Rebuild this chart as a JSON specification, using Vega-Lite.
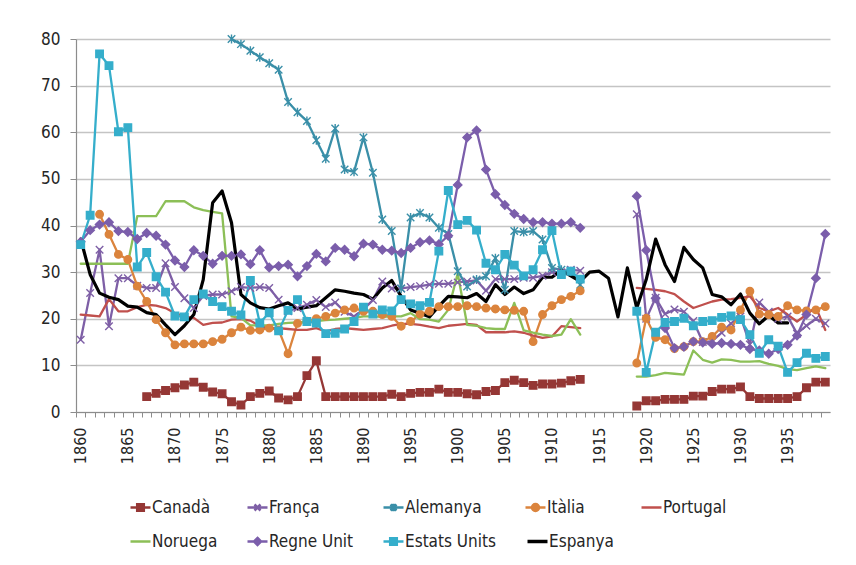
{
  "$schema": "https://vega.github.io/schema/vega-lite/v6.json",
  "autosize": "none",
  "width": 754,
  "height": 373,
  "padding": {"left": 76, "top": 39, "right": 26, "bottom": 153},
  "background": "white",
  "config": {
    "font": "DejaVu Sans Condensed",
    "view": {"stroke": null},
    "axis": {"labelFont": "DejaVu Sans Condensed", "labelColor": "#262626", "domainColor": "#8c8c8c", "tickColor": "#8c8c8c", "gridColor": "#c4c4c4", "gridWidth": 1.3, "domainWidth": 1.2, "tickWidth": 1, "title": null},
    "legend": {"labelFont": "DejaVu Sans Condensed", "labelColor": "#262626"}
  },
  "data": {"values": [
    {"year":1860,"França":15.5,"Portugal":20.9,"Noruega":31.8,"Regne Unit":36.5,"Estats Units":35.9,"Espanya":37.1},
    {"year":1861,"França":25.5,"Portugal":20.7,"Noruega":31.8,"Regne Unit":39.0,"Estats Units":42.2,"Espanya":29.5},
    {"year":1862,"França":34.8,"Itàlia":42.4,"Portugal":20.5,"Noruega":31.8,"Regne Unit":40.2,"Estats Units":76.8,"Espanya":25.5},
    {"year":1863,"França":18.4,"Itàlia":38.1,"Portugal":24.2,"Noruega":31.8,"Regne Unit":40.7,"Estats Units":74.3,"Espanya":24.6},
    {"year":1864,"França":28.7,"Itàlia":33.8,"Portugal":21.6,"Noruega":31.8,"Regne Unit":38.8,"Estats Units":60.1,"Espanya":24.1},
    {"year":1865,"França":28.7,"Itàlia":32.7,"Portugal":21.6,"Noruega":31.8,"Regne Unit":38.6,"Estats Units":61.0,"Espanya":22.7},
    {"year":1866,"França":27.1,"Itàlia":27.0,"Portugal":22.5,"Noruega":42.0,"Regne Unit":37.1,"Estats Units":31.1,"Espanya":22.5},
    {"year":1867,"Canadà":3.3,"França":26.6,"Itàlia":23.7,"Portugal":23.0,"Noruega":42.0,"Regne Unit":38.4,"Estats Units":34.2,"Espanya":21.3},
    {"year":1868,"Canadà":4.0,"França":26.6,"Itàlia":19.8,"Portugal":22.8,"Noruega":42.0,"Regne Unit":37.8,"Estats Units":29.0,"Espanya":20.9},
    {"year":1869,"Canadà":4.6,"França":31.9,"Itàlia":17.0,"Portugal":22.3,"Noruega":45.2,"Regne Unit":35.9,"Estats Units":25.7,"Espanya":18.7},
    {"year":1870,"Canadà":5.2,"França":26.8,"Itàlia":14.4,"Portugal":21.2,"Noruega":45.2,"Regne Unit":32.5,"Estats Units":20.6,"Espanya":16.6},
    {"year":1871,"Canadà":5.8,"França":24.4,"Itàlia":14.6,"Portugal":20.5,"Noruega":45.2,"Regne Unit":31.1,"Estats Units":20.4,"Espanya":18.5},
    {"year":1872,"Canadà":6.4,"França":22.3,"Itàlia":14.6,"Portugal":20.2,"Noruega":43.9,"Regne Unit":34.7,"Estats Units":24.1,"Espanya":20.9},
    {"year":1873,"Canadà":5.3,"França":24.9,"Itàlia":14.6,"Portugal":18.7,"Noruega":43.3,"Regne Unit":33.5,"Estats Units":25.3,"Espanya":28.4},
    {"year":1874,"Canadà":4.3,"França":25.2,"Itàlia":15.1,"Portugal":19.1,"Noruega":42.9,"Regne Unit":31.8,"Estats Units":23.7,"Espanya":44.9},
    {"year":1875,"Canadà":3.9,"França":25.2,"Itàlia":15.6,"Portugal":19.2,"Noruega":42.6,"Regne Unit":33.5,"Estats Units":22.6,"Espanya":47.4},
    {"year":1876,"Canadà":2.2,"França":25.9,"Alemanya":80.0,"Itàlia":17.0,"Portugal":19.8,"Noruega":20.5,"Regne Unit":33.5,"Estats Units":21.6,"Espanya":40.6},
    {"year":1877,"Canadà":1.5,"França":26.8,"Alemanya":78.9,"Itàlia":18.2,"Portugal":19.9,"Noruega":20.2,"Regne Unit":33.8,"Estats Units":20.8,"Espanya":25.2},
    {"year":1878,"Canadà":3.3,"França":26.6,"Alemanya":77.5,"Itàlia":17.5,"Portugal":19.6,"Noruega":18.6,"Regne Unit":31.7,"Estats Units":28.2,"Espanya":23.4},
    {"year":1879,"Canadà":4.0,"França":26.8,"Alemanya":76.1,"Itàlia":17.6,"Portugal":18.4,"Noruega":18.6,"Regne Unit":34.7,"Estats Units":19.1,"Espanya":22.4},
    {"year":1880,"Canadà":4.5,"França":26.6,"Alemanya":74.8,"Itàlia":18.0,"Portugal":18.0,"Noruega":18.6,"Regne Unit":31.0,"Estats Units":21.3,"Espanya":22.1},
    {"year":1881,"Canadà":3.0,"França":24.1,"Alemanya":73.4,"Itàlia":17.6,"Portugal":18.0,"Noruega":18.9,"Regne Unit":31.3,"Estats Units":17.4,"Espanya":22.8},
    {"year":1882,"Canadà":2.6,"França":21.6,"Alemanya":66.5,"Itàlia":12.5,"Portugal":17.8,"Noruega":19.1,"Regne Unit":31.6,"Estats Units":21.8,"Espanya":23.4},
    {"year":1883,"Canadà":3.3,"França":22.3,"Alemanya":64.3,"Itàlia":19.0,"Portugal":17.6,"Noruega":19.2,"Regne Unit":29.1,"Estats Units":24.1,"Espanya":22.1},
    {"year":1884,"Canadà":7.8,"França":23.0,"Alemanya":62.4,"Itàlia":19.5,"Portugal":17.6,"Noruega":19.3,"Regne Unit":31.3,"Estats Units":19.4,"Espanya":22.5},
    {"year":1885,"Canadà":11.0,"França":24.0,"Alemanya":58.3,"Itàlia":20.0,"Portugal":18.0,"Noruega":19.5,"Regne Unit":33.9,"Estats Units":19.1,"Espanya":22.8},
    {"year":1886,"Canadà":3.3,"França":22.5,"Alemanya":54.3,"Itàlia":20.5,"Portugal":17.3,"Noruega":19.7,"Regne Unit":32.3,"Estats Units":16.8,"Espanya":24.5},
    {"year":1887,"Canadà":3.3,"França":23.5,"Alemanya":60.8,"Itàlia":21.2,"Portugal":17.8,"Noruega":19.8,"Regne Unit":35.2,"Estats Units":16.9,"Espanya":26.2},
    {"year":1888,"Canadà":3.3,"França":21.5,"Alemanya":52.0,"Itàlia":21.9,"Portugal":18.0,"Noruega":20.0,"Regne Unit":34.8,"Estats Units":17.8,"Espanya":25.9},
    {"year":1889,"Canadà":3.3,"França":20.5,"Alemanya":51.5,"Itàlia":22.3,"Portugal":17.8,"Noruega":20.2,"Regne Unit":33.4,"Estats Units":19.4,"Espanya":25.5},
    {"year":1890,"Canadà":3.3,"França":22.0,"Alemanya":58.9,"Itàlia":21.6,"Portugal":17.6,"Noruega":20.5,"Regne Unit":36.1,"Estats Units":22.5,"Espanya":25.2},
    {"year":1891,"Canadà":3.3,"França":24.0,"Alemanya":51.3,"Itàlia":21.6,"Portugal":17.8,"Noruega":20.5,"Regne Unit":35.9,"Estats Units":21.0,"Espanya":24.2},
    {"year":1892,"Canadà":3.3,"França":28.0,"Alemanya":41.3,"Itàlia":20.9,"Portugal":18.0,"Noruega":20.4,"Regne Unit":34.8,"Estats Units":21.9,"Espanya":26.6},
    {"year":1893,"Canadà":3.8,"França":26.5,"Alemanya":38.8,"Itàlia":20.5,"Portugal":18.5,"Noruega":20.5,"Regne Unit":34.6,"Estats Units":21.7,"Espanya":28.2},
    {"year":1894,"Canadà":3.3,"França":26.5,"Alemanya":26.5,"Itàlia":18.4,"Portugal":18.9,"Noruega":20.5,"Regne Unit":34.1,"Estats Units":24.1,"Espanya":24.8},
    {"year":1895,"Canadà":4.0,"França":26.8,"Alemanya":41.7,"Itàlia":19.4,"Portugal":18.9,"Noruega":21.2,"Regne Unit":35.2,"Estats Units":23.2,"Espanya":21.9},
    {"year":1896,"Canadà":4.2,"França":27.0,"Alemanya":42.7,"Itàlia":21.0,"Portugal":18.7,"Noruega":19.9,"Regne Unit":36.4,"Estats Units":22.8,"Espanya":21.2},
    {"year":1897,"Canadà":4.2,"França":27.3,"Alemanya":41.7,"Itàlia":21.6,"Portugal":18.3,"Noruega":19.8,"Regne Unit":36.8,"Estats Units":23.5,"Espanya":20.4},
    {"year":1898,"Canadà":4.9,"França":27.5,"Alemanya":39.5,"Itàlia":22.6,"Portugal":18.0,"Noruega":19.4,"Regne Unit":36.0,"Estats Units":34.5,"Espanya":22.7},
    {"year":1899,"Canadà":4.2,"França":27.5,"Alemanya":38.2,"Itàlia":22.6,"Portugal":18.5,"Noruega":21.9,"Regne Unit":37.8,"Estats Units":47.5,"Espanya":24.8},
    {"year":1900,"Canadà":4.2,"França":27.8,"Alemanya":30.2,"Itàlia":22.6,"Portugal":18.7,"Noruega":29.7,"Regne Unit":48.7,"Estats Units":40.2,"Espanya":24.7},
    {"year":1901,"Canadà":3.9,"França":28.0,"Alemanya":26.9,"Itàlia":22.8,"Portugal":18.9,"Noruega":18.7,"Regne Unit":58.9,"Estats Units":41.1,"Espanya":24.5},
    {"year":1902,"Canadà":3.7,"França":28.2,"Alemanya":28.4,"Itàlia":22.6,"Portugal":18.7,"Noruega":18.5,"Regne Unit":60.4,"Estats Units":39.0,"Espanya":25.4},
    {"year":1903,"Canadà":4.4,"França":26.0,"Alemanya":29.1,"Itàlia":22.3,"Portugal":17.1,"Noruega":18.0,"Regne Unit":52.0,"Estats Units":31.9,"Espanya":23.7},
    {"year":1904,"Canadà":4.6,"França":28.5,"Alemanya":33.0,"Itàlia":22.1,"Portugal":17.1,"Noruega":17.8,"Regne Unit":46.7,"Estats Units":30.5,"Espanya":27.3},
    {"year":1905,"Canadà":6.3,"França":28.5,"Alemanya":26.2,"Itàlia":21.9,"Portugal":17.1,"Noruega":17.8,"Regne Unit":44.4,"Estats Units":33.8,"Espanya":25.2},
    {"year":1906,"Canadà":6.8,"França":28.5,"Alemanya":38.8,"Itàlia":21.8,"Portugal":17.3,"Noruega":23.4,"Regne Unit":42.5,"Estats Units":31.5,"Espanya":26.8},
    {"year":1907,"Canadà":6.3,"França":28.8,"Alemanya":38.6,"Itàlia":21.6,"Portugal":17.0,"Noruega":17.5,"Regne Unit":41.4,"Estats Units":29.2,"Espanya":25.4},
    {"year":1908,"Canadà":5.7,"França":28.8,"Alemanya":38.8,"Itàlia":15.1,"Portugal":16.4,"Noruega":17.0,"Regne Unit":40.7,"Estats Units":30.5,"Espanya":26.2},
    {"year":1909,"Canadà":6.0,"França":29.2,"Alemanya":37.0,"Itàlia":20.9,"Portugal":15.9,"Noruega":16.6,"Regne Unit":40.7,"Estats Units":34.8,"Espanya":28.9},
    {"year":1910,"Canadà":6.0,"França":30.0,"Alemanya":30.9,"Itàlia":22.8,"Portugal":16.2,"Noruega":16.3,"Regne Unit":40.4,"Estats Units":38.9,"Espanya":28.9},
    {"year":1911,"Canadà":6.2,"França":30.0,"Alemanya":30.5,"Itàlia":24.1,"Portugal":18.4,"Noruega":16.6,"Regne Unit":40.4,"Estats Units":29.5,"Espanya":30.4},
    {"year":1912,"Canadà":6.7,"França":30.5,"Alemanya":30.2,"Itàlia":24.8,"Portugal":18.2,"Noruega":19.9,"Regne Unit":40.7,"Estats Units":30.2,"Espanya":29.2},
    {"year":1913,"Canadà":7.0,"França":30.3,"Alemanya":27.3,"Itàlia":26.0,"Portugal":18.0,"Noruega":16.6,"Regne Unit":39.5,"Estats Units":28.5,"Espanya":28.0},
    {"year":1914,"Espanya":30.0},
    {"year":1915,"Espanya":30.2},
    {"year":1916,"Espanya":28.7},
    {"year":1917,"Espanya":20.4},
    {"year":1918,"Espanya":30.9},
    {"year":1919,"Canadà":1.3,"França":42.4,"Itàlia":10.5,"Portugal":26.6,"Noruega":7.6,"Regne Unit":46.3,"Estats Units":21.6,"Espanya":22.3},
    {"year":1920,"Canadà":2.4,"França":20.0,"Itàlia":20.1,"Portugal":26.4,"Noruega":7.6,"Regne Unit":34.7,"Estats Units":8.5,"Espanya":28.4},
    {"year":1921,"Canadà":2.4,"França":24.5,"Itàlia":16.0,"Portugal":26.2,"Noruega":7.9,"Regne Unit":24.4,"Estats Units":17.1,"Espanya":37.1},
    {"year":1922,"Canadà":2.7,"França":21.0,"Itàlia":15.5,"Portugal":25.9,"Noruega":8.4,"Regne Unit":18.0,"Estats Units":19.2,"Espanya":31.6},
    {"year":1923,"Canadà":2.7,"França":22.0,"Itàlia":13.6,"Portugal":25.3,"Noruega":8.2,"Regne Unit":13.7,"Estats Units":19.4,"Espanya":28.0},
    {"year":1924,"Canadà":2.7,"França":21.5,"Itàlia":14.0,"Portugal":23.7,"Noruega":8.0,"Regne Unit":14.0,"Estats Units":20.1,"Espanya":35.3},
    {"year":1925,"Canadà":3.4,"França":19.5,"Itàlia":15.1,"Portugal":22.3,"Noruega":13.2,"Regne Unit":15.1,"Estats Units":18.5,"Espanya":32.7},
    {"year":1926,"Canadà":3.4,"França":15.0,"Itàlia":15.1,"Portugal":23.0,"Noruega":11.2,"Regne Unit":14.9,"Estats Units":19.4,"Espanya":30.9},
    {"year":1927,"Canadà":4.4,"França":15.2,"Itàlia":16.2,"Portugal":23.7,"Noruega":10.6,"Regne Unit":14.6,"Estats Units":19.6,"Espanya":25.2},
    {"year":1928,"Canadà":4.9,"França":17.0,"Itàlia":18.2,"Portugal":24.1,"Noruega":11.3,"Regne Unit":14.8,"Estats Units":20.3,"Espanya":24.7},
    {"year":1929,"Canadà":4.9,"França":19.0,"Itàlia":17.6,"Portugal":24.2,"Noruega":11.2,"Regne Unit":14.6,"Estats Units":20.6,"Espanya":23.0},
    {"year":1930,"Canadà":5.4,"França":20.5,"Itàlia":21.9,"Portugal":24.5,"Noruega":10.8,"Regne Unit":14.4,"Estats Units":19.8,"Espanya":25.3},
    {"year":1931,"Canadà":3.3,"França":14.5,"Itàlia":25.9,"Portugal":24.8,"Noruega":10.8,"Regne Unit":13.5,"Estats Units":16.6,"Espanya":21.2},
    {"year":1932,"Canadà":2.9,"França":23.5,"Itàlia":21.0,"Portugal":22.3,"Noruega":10.9,"Regne Unit":13.2,"Estats Units":12.6,"Espanya":18.9},
    {"year":1933,"Canadà":2.9,"França":21.5,"Itàlia":20.9,"Portugal":21.6,"Noruega":10.3,"Regne Unit":12.5,"Estats Units":15.5,"Espanya":20.7},
    {"year":1934,"Canadà":2.9,"França":20.0,"Itàlia":20.5,"Portugal":22.3,"Noruega":9.9,"Regne Unit":13.5,"Estats Units":14.1,"Espanya":19.1},
    {"year":1935,"Canadà":2.9,"França":20.5,"Itàlia":22.8,"Portugal":20.9,"Noruega":9.2,"Regne Unit":14.4,"Estats Units":8.5,"Espanya":19.1},
    {"year":1936,"Canadà":3.3,"França":16.8,"Itàlia":21.9,"Portugal":19.4,"Noruega":9.0,"Regne Unit":16.4,"Estats Units":10.6},
    {"year":1937,"Canadà":5.2,"França":18.5,"Itàlia":21.7,"Portugal":20.9,"Noruega":9.4,"Regne Unit":20.9,"Estats Units":12.6},
    {"year":1938,"Canadà":6.4,"França":20.0,"Itàlia":21.9,"Portugal":22.5,"Noruega":9.8,"Regne Unit":28.7,"Estats Units":11.5},
    {"year":1939,"Canadà":6.4,"França":19.0,"Itàlia":22.6,"Portugal":17.6,"Noruega":9.4,"Regne Unit":38.2,"Estats Units":11.9}
  ]},
  "transform": [
    {"fold": ["Canadà","França","Alemanya","Itàlia","Portugal","Noruega","Regne Unit","Estats Units","Espanya"], "as": ["key","value"]}
  ],
  "layer": [
    {
      "mark": {"type": "line", "strokeJoin": "round", "strokeCap": "round", "invalid": "break-paths-filter-domains"},
      "encoding": {
        "x": {"field": "year", "type": "quantitative",
              "scale": {"domain": [1859.5, 1939.5], "nice": false, "zero": false},
              "axis": {"tickCount": 80, "format": "d", "labelExpr": "datum.value % 5 === 0 ? datum.label : ''",
                       "labelAngle": -90, "labelFontSize": 16, "labelPadding": 10, "tickSize": 5,
                       "tickOffset": -4.7, "labelOffset": 4.7, "labelOverlap": false, "labelFlush": false, "grid": false}},
        "y": {"field": "value", "type": "quantitative",
              "scale": {"domain": [0, 80], "nice": false},
              "axis": {"values": [0,10,20,30,40,50,60,70,80], "labelFontSize": 17, "tickSize": 6, "labelPadding": 10, "grid": true}},
        "color": {"field": "key", "type": "nominal",
                  "scale": {"domain": ["Canadà","França","Alemanya","Itàlia","Portugal","Noruega","Regne Unit","Estats Units","Espanya"],
                            "range": ["#953735","#7E5FA6","#3A8FA8","#DB843D","#C0504D","#8CBF57","#7B5EAB","#35AECB","#000000"]},
                  "legend": {"title": null, "orient": "none", "legendX": 56, "legendY": 460, "direction": "horizontal", "columns": 5,
                             "gridAlign": "none", "columnPadding": 24, "rowPadding": 15, "labelFontSize": 17, "labelOffset": 3,
                             "symbolSize": 400, "symbolStrokeWidth": 2.5, "padding": 0,
                             "encode": {"symbols": {"update": {
                               "shape": {"signal": "(datum.value === 'Canadà' || datum.value === 'Estats Units') ? 'M-1,0H1M-0.33,-0.33H0.33V0.33H-0.33Z' : datum.value === 'Itàlia' ? 'M-1,0H1M0.35,0A0.35,0.35 0 1,1 -0.35,0A0.35,0.35 0 1,1 0.35,0Z' : datum.value === 'Regne Unit' ? 'M-1,0H1M0,-0.35L0.35,0L0,0.35L-0.35,0Z' : datum.value === 'França' ? 'M-1,0H1M-0.3,-0.3L0.3,0.3M-0.3,0.3L0.3,-0.3' : datum.value === 'Alemanya' ? 'M-1,0H1M-0.3,-0.3L0.3,0.3M-0.3,0.3L0.3,-0.3M0,-0.38V0.38' : 'M-1,0H1'"},
                               "fill": {"signal": "scale('color', datum.value)"},
                               "stroke": {"signal": "scale('color', datum.value)"},
                               "strokeWidth": {"signal": "datum.value === 'Espanya' ? 3.5 : 2.5"},
                               "opacity": {"value": 1}
                             }}}}},
        "strokeWidth": {"condition": {"test": "datum.key === 'Espanya'", "value": 3.2}, "value": 2.3}
      }
    },
    {
      "transform": [{"filter": {"field": "key", "oneOf": ["Canadà","França","Alemanya","Itàlia","Regne Unit","Estats Units"]}}],
      "mark": {"type": "point", "opacity": 1, "strokeWidth": 1.4},
      "encoding": {
        "x": {"field": "year", "type": "quantitative"},
        "y": {"field": "value", "type": "quantitative"},
        "shape": {"field": "key", "type": "nominal", "legend": null,
                  "scale": {"domain": ["Canadà","França","Alemanya","Itàlia","Regne Unit","Estats Units"],
                            "range": ["square","M-1,-1L1,1M-1,1L1,-1","M-1,-1L1,1M-1,1L1,-1M0,-1.2V1.2","circle","diamond","square"]}},
        "fill": {"field": "key", "type": "nominal", "legend": null,
                 "scale": {"domain": ["Canadà","França","Alemanya","Itàlia","Regne Unit","Estats Units"],
                           "range": ["#953735","#7E5FA6","#3A8FA8","#DB843D","#7B5EAB","#35AECB"]}},
        "stroke": {"field": "key", "type": "nominal", "legend": null,
                   "scale": {"domain": ["Canadà","França","Alemanya","Itàlia","Regne Unit","Estats Units"],
                             "range": ["#953735","#7E5FA6","#3A8FA8","#DB843D","#7B5EAB","#35AECB"]}},
        "size": {"condition": {"test": "datum.key === 'Regne Unit'", "value": 70}, "value": 56}
      }
    }
  ]
}
